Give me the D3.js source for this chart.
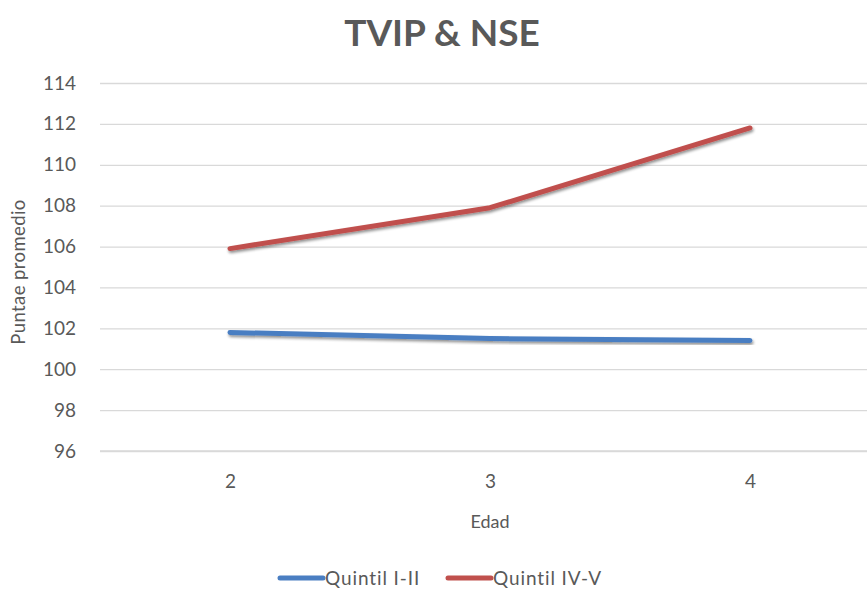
<!DOCTYPE html>
<html><head><meta charset="utf-8">
<script src="https://cdn.jsdelivr.net/npm/d3@7"></script>
<style>body{margin:0;background:#fff;}svg{display:block;font-family:Lato,"Open Sans",sans-serif;}</style>
</head><body><svg id="c" width="867" height="589"></svg>
<script>
const categories = ["2","3","4"];
const quintilLow = [101.8, 101.5, 101.4];
const quintilHigh = [105.9, 107.9, 111.8];
const yTicks = [96,98,100,102,104,106,108,110,112,114];
const seriesNames = ["Quintil I-II","Quintil IV-V"];
const colors = ["#4A7EC2","#C0504D"];

const svg = d3.select("#c");
const pLeft = 100, pRight = 880, pTop = 83, pBottom = 451;
const x = d3.scalePoint().domain(categories).range([pLeft, pRight]).padding(0.5);
const y = d3.scaleLinear().domain([96,114]).range([pBottom, pTop]);

const defs = svg.append("defs");
const f = defs.append("filter").attr("id","sh").attr("x","-10%").attr("y","-50%").attr("width","120%").attr("height","200%");
f.append("feGaussianBlur").attr("in","SourceAlpha").attr("stdDeviation",1.5).attr("result","b");
f.append("feOffset").attr("in","b").attr("dx",1).attr("dy",2).attr("result","o");
f.append("feComponentTransfer").attr("in","o").attr("result","o2").append("feFuncA").attr("type","linear").attr("slope",0.45);
const m = f.append("feMerge"); m.append("feMergeNode").attr("in","o2"); m.append("feMergeNode").attr("in","SourceGraphic");

svg.append("text").attr("x",442).attr("y",46).attr("text-anchor","middle")
  .attr("font-size",37).attr("font-weight","bold").attr("fill","#595959").text("TVIP & NSE");

const ya = svg.append("g").attr("transform",`translate(${pLeft},0)`)
  .call(d3.axisLeft(y).tickValues(yTicks).tickSize(-(867-pLeft)).tickPadding(24).tickFormat(d3.format("d")));
ya.attr("font-family",null);
ya.select(".domain").remove();
ya.selectAll(".tick line").attr("stroke","#d9d9d9").attr("stroke-width",1.3);
ya.selectAll(".tick text").attr("fill","#595959").attr("font-size",19);

const xa = svg.append("g").attr("transform",`translate(0,${pBottom})`)
  .call(d3.axisBottom(x).tickSize(0).tickPadding(24));
xa.attr("font-family",null);
xa.select(".domain").attr("stroke","#d9d9d9").attr("stroke-width",1.3).attr("d",`M${pLeft},0H867`);
xa.selectAll(".tick text").attr("fill","#595959").attr("font-size",19);

svg.append("text").attr("x",490).attr("y",528).attr("text-anchor","middle").attr("font-size",18).attr("fill","#595959").text("Edad");
svg.append("text").attr("transform","translate(25,272) rotate(-90)").attr("text-anchor","middle").attr("font-size",18.5).attr("letter-spacing",0.4).attr("fill","#595959").text("Puntae promedio");

const line = d3.line().x((d,i)=>x(categories[i])).y(d=>y(d));
[quintilLow, quintilHigh].forEach((s,k)=>{
  svg.append("path").datum(s).attr("d",line).attr("fill","none").attr("stroke",colors[k])
    .attr("stroke-width",5).attr("stroke-linecap","round").attr("stroke-linejoin","round").attr("filter","url(#sh)");
});

const lg = svg.append("g");
const lx = [280, 448];
seriesNames.forEach((n,k)=>{
  lg.append("line").attr("x1",lx[k]).attr("x2",lx[k]+43).attr("y1",578).attr("y2",578).attr("stroke",colors[k]).attr("stroke-width",5).attr("stroke-linecap","round");
  lg.append("text").attr("x",lx[k]+45).attr("y",585).attr("font-size",19).attr("letter-spacing",0.9).attr("fill","#595959").text(n);
});
</script></body></html>
